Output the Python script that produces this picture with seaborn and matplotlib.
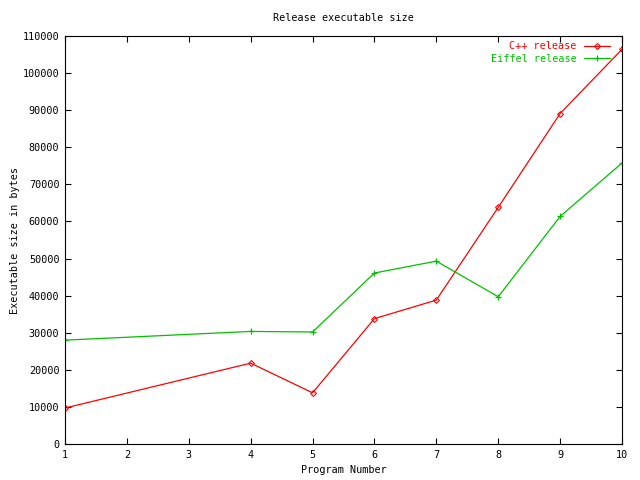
import matplotlib
matplotlib.use("Agg")
import matplotlib.pyplot as plt
import seaborn as sns
import pandas as pd

programs = [1, 4, 5, 6, 7, 8, 9, 10]
cpp_release = [9700, 21800, 13800, 33800, 38800, 63800, 89100, 106400]
eiffel_release = [28000, 30350, 30200, 46100, 49300, 39700, 61350, 75750]
series_names = ["C++ release", "Eiffel release"]
colors = ["#ff0000", "#00c000"]
x_ticks = list(range(1, 11))
y_ticks = list(range(0, 110001, 10000))

FS = 7.3

sns.set_style("ticks")
plt.rcParams['font.family'] = ['DejaVu Sans Mono']
plt.rcParams['font.size'] = FS
plt.rcParams['text.color'] = 'black'
plt.rcParams['axes.labelcolor'] = 'black'
plt.rcParams['xtick.color'] = 'black'
plt.rcParams['ytick.color'] = 'black'

fig = plt.figure(figsize=(6.4, 4.8), dpi=100)
ax = fig.add_axes([65/640, 1 - 444/480, (622-65)/640, (444-36)/480])

df_cpp = pd.DataFrame({"Program": programs, "Size": cpp_release})
df_eif = pd.DataFrame({"Program": programs, "Size": eiffel_release})

sns.lineplot(data=df_cpp, x="Program", y="Size", color=colors[0],
             marker="D", markersize=3, markerfacecolor="none",
             markeredgecolor=colors[0], markeredgewidth=0.8,
             linewidth=0.9, ax=ax, label=series_names[0])
sns.lineplot(data=df_eif, x="Program", y="Size", color=colors[1],
             marker="+", markersize=5, markeredgecolor=colors[1],
             markeredgewidth=0.9, linewidth=0.9, ax=ax, label=series_names[1])

ax.set_xlim(1, 10)
ax.set_ylim(0, 110000)
ax.set_xticks(x_ticks)
ax.set_yticks(y_ticks)
ax.set_yticklabels([str(v) for v in y_ticks])
ax.tick_params(direction="in", length=4, width=0.8, top=True, right=True,
               labelsize=FS, pad=4, colors="black")
for s in ax.spines.values():
    s.set_linewidth(0.8)
    s.set_color("black")

ax.set_xlabel("Program Number", fontsize=FS, labelpad=4, color="black")
ax.set_ylabel("Executable size in bytes", fontsize=FS, labelpad=2, color="black")
ax.set_title("Release executable size", fontsize=FS, pad=11, color="black")

leg = ax.legend(loc="upper right", bbox_to_anchor=(0.986, 0.997), frameon=False,
                markerfirst=False, fontsize=FS, handlelength=2.6,
                borderaxespad=0.0, labelspacing=0.25, handletextpad=0.7)
for text, c in zip(leg.get_texts(), colors):
    text.set_color(c)

fig.savefig("out.png", dpi=100)
